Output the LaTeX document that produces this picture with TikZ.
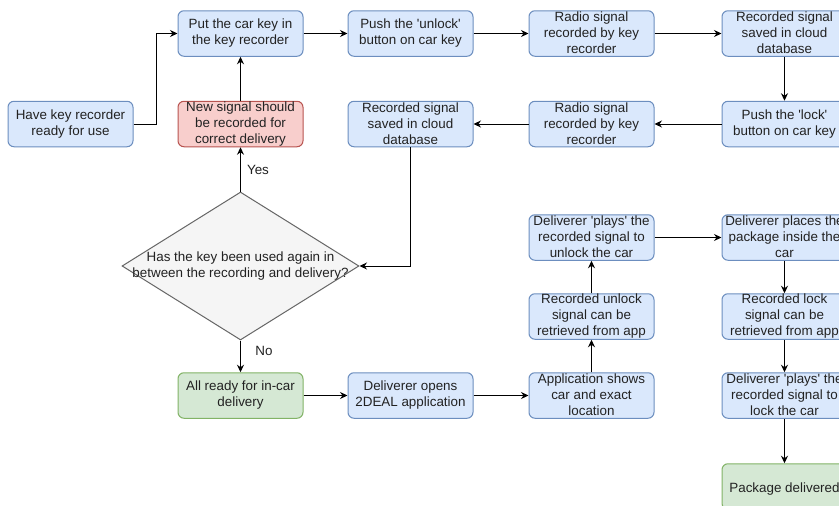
\documentclass[tikz,border=0pt]{standalone}
\usepackage{fontspec}
\setmainfont{Liberation Sans}[Ligatures=TeXOff]
\usetikzlibrary{shapes.geometric,arrows.meta}

\definecolor{bluefill}{HTML}{DAE8FC}
\definecolor{bluedraw}{HTML}{6C8EBF}
\definecolor{redfill}{HTML}{F8CECC}
\definecolor{reddraw}{HTML}{B85450}
\definecolor{greenfill}{HTML}{D5E8D4}
\definecolor{greendraw}{HTML}{82B366}
\definecolor{greyfill}{HTML}{F5F5F5}
\definecolor{greydraw}{HTML}{666666}
\definecolor{inkcol}{HTML}{222222}

% line strut: gives every text line the same height and depth
\newcommand\linestrut{\rule[-1.5pt]{0pt}{16pt}}

\tikzset{
  label text/.style={text=inkcol, font=\fontsize{13.4}{16}\selectfont},
  box/.style={draw=bluedraw, fill=bluefill, rounded corners=6pt,
    minimum width=125pt, minimum height=45.5pt, inner sep=0pt,
    align=center, label text, line width=1pt,
    execute at begin node=\linestrut, execute at end node=\linestrut},
  redbox/.style={box, draw=reddraw, fill=redfill},
  greenbox/.style={box, draw=greendraw, fill=greenfill},
  decision/.style={diamond, draw=greydraw, fill=greyfill, line width=1pt,
    minimum width=237pt, minimum height=148pt, inner sep=0pt},
  decisiontext/.style={align=center, label text, inner sep=0pt,
    execute at begin node=\linestrut, execute at end node=\linestrut},
  flow/.style={draw=black, line width=1pt,
    -{Stealth[length=7.5pt,width=7pt,inset=2.5pt]}},
  edgelabel/.style={label text, inner sep=0pt},
}

\begin{document}
\begin{tikzpicture}[x=1pt,y=-1pt]
  \useasboundingbox (0,0) rectangle (839,506);
  \fill[white] (0,0) rectangle (839,506);
  \clip (0,0) rectangle (839,506);

  % recording of the unlock signal
  \node[box] (put)    at (240.5,33.5) {Put the car key in\\the key recorder};
  \node[box] (unlock) at (410.5,33.5) {Push the 'unlock'\\button on car key};
  \node[box] (radioA) at (591.5,33.5) {Radio signal\\recorded by key\\recorder};
  \node[box] (saveA)  at (784.5,33.5) {Recorded signal\\saved in cloud\\database};

  % recording of the lock signal
  \node[box] (ready)  at (70.5,124)  {Have key recorder\\ready for use};
  \node[redbox] (renew) at (240.5,124) {New signal should\\be recorded for\\correct delivery};
  \node[box] (saveB)  at (410.5,124) {Recorded signal\\saved in cloud\\database};
  \node[box] (radioB) at (591.5,124) {Radio signal\\recorded by key\\recorder};
  \node[box] (lock)   at (784.5,124) {Push the 'lock'\\button on car key};

  % check before delivery
  \node[decision] (check) at (240.5,266) {};
  \node[decisiontext] (checktext) at (check.center)
    {Has the key been used again in\\between the recording and delivery?};

  % delivery
  \node[greenbox] (allset) at (240.5,395.5) {All ready for in-car\\delivery};
  \node[box] (opens)   at (410.5,395.5) {Deliverer opens\\2DEAL application};
  \node[box] (shows)   at (591.5,395.5) {Application shows\\car and exact\\location};
  \node[box] (getunl)  at (591.5,316.5) {Recorded unlock\\signal can be\\retrieved from app};
  \node[box] (playunl) at (591.5,237.5) {Deliverer 'plays' the\\recorded signal to\\unlock the car};
  \node[box] (places)  at (784.5,237.5) {Deliverer places the\\package inside the\\car};
  \node[box] (getlock) at (784.5,316.5) {Recorded lock\\signal can be\\retrieved from app};
  \node[box] (playlock) at (784.5,395.5) {Deliverer 'plays' the\\recorded signal to\\lock the car};
  \node[greenbox] (done) at (784.5,486.5) {Package delivered};

  % connectors
  \draw[flow] (ready.east) -- ++(23,0) |- (put.west);
  \draw[flow] (put) -- (unlock);
  \draw[flow] (unlock) -- (radioA);
  \draw[flow] (radioA) -- (saveA);
  \draw[flow] (saveA) -- (lock);
  \draw[flow] (lock) -- (radioB);
  \draw[flow] (radioB) -- (saveB);
  \draw[flow] (saveB.south) |- (check.east);
  \draw[flow] (check.north) -- (renew.south);
  \draw[flow] (renew) -- (put);
  \draw[flow] (check.south) -- (allset.north);
  \draw[flow] (allset) -- (opens);
  \draw[flow] (opens) -- (shows);
  \draw[flow] (shows) -- (getunl);
  \draw[flow] (getunl) -- (playunl);
  \draw[flow] (playunl) -- (places);
  \draw[flow] (places) -- (getlock);
  \draw[flow] (getlock) -- (playlock);
  \draw[flow] (playlock) -- (done);

  % branch labels
  \node[edgelabel] (yes) at (258,169.5) {Yes};
  \node[edgelabel] (no)  at (264,351) {No};
\end{tikzpicture}
\end{document}
